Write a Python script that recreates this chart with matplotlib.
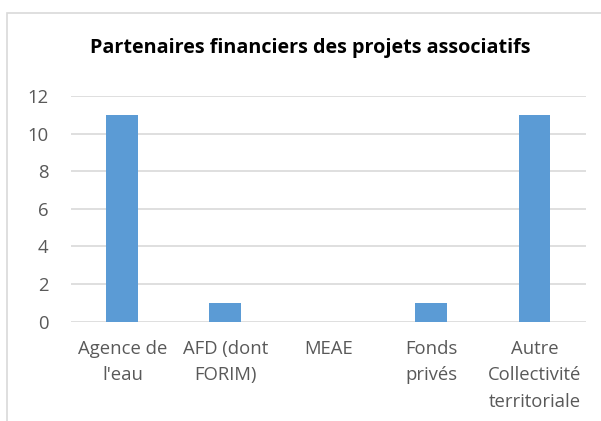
import matplotlib.pyplot as plt
from matplotlib.patches import Rectangle

categories = ["Agence de\nl'eau", "AFD (dont\nFORIM)", "MEAE", "Fonds\nprivés",
              "Autre\nCollectivité\nterritoriale"]
values = [11, 1, 0, 1, 11]
yticks = [0, 2, 4, 6, 8, 10, 12]

plt.rcParams['font.family'] = ['Open Sans', 'DejaVu Sans']

fig = plt.figure(figsize=(6.01, 4.21), dpi=100)
ax = fig.add_axes([0.118, 0.236, 0.857, 0.536])

ax.bar(range(len(values)), values, width=0.31, color="#5B9BD5", zorder=3)
ax.set_xlim(-0.5, len(values) - 0.5)
ax.set_ylim(0, 12)
ax.set_yticks(yticks)
ax.set_xticks(range(len(values)))
ax.set_xticklabels(categories, linespacing=1.62)

ax.grid(axis="y", color="#D9D9D9", linewidth=1.2, zorder=0)
for s in ax.spines.values():
    s.set_visible(False)
ax.tick_params(axis="both", length=0, labelsize=13.3, colors="#595959")
ax.tick_params(axis="y", pad=16)
ax.tick_params(axis="x", pad=13)

fig.text(0.516, 0.885, "Partenaires financiers des projets associatifs",
         ha="center", va="center", fontsize=14.2, fontweight="bold", color="black")

# chart border
fig.patches.append(Rectangle((7 / 601, -0.05), 1.0, 1 - 13 / 421 + 0.05,
                             transform=fig.transFigure, fill=False,
                             edgecolor="#D9D9D9", linewidth=1.2))

fig.savefig("out.png", dpi=100)
